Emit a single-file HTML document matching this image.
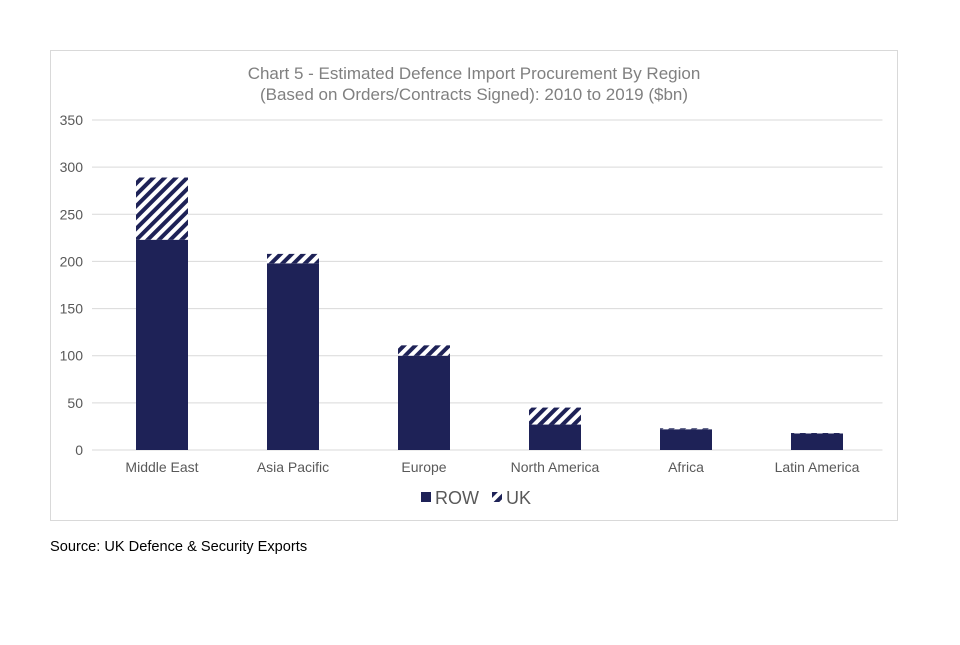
<!DOCTYPE html>
<html><head><meta charset="utf-8"><style>
body{margin:0;background:#fff;font-family:"Liberation Sans",Arial,sans-serif;}
</style></head><body>
<svg width="960" height="640" xmlns="http://www.w3.org/2000/svg" font-family="Liberation Sans, Arial, sans-serif">
<defs>
<pattern id="hatch" patternUnits="userSpaceOnUse" width="8" height="8" patternTransform="rotate(45)">
<rect width="8" height="8" fill="#fff"/><rect width="4" height="8" fill="#1e2257"/>
</pattern>
</defs>
<rect x="50.5" y="50.5" width="847" height="470" fill="#fff" stroke="#d9d9d9"/>
<text x="474" y="79" text-anchor="middle" font-size="17" fill="#808080">Chart 5 - Estimated Defence Import Procurement By Region</text>
<text x="474" y="100" text-anchor="middle" font-size="17" fill="#808080">(Based on Orders/Contracts Signed): 2010 to 2019 ($bn)</text>
<g id="grid"></g><g id="bars"></g><g id="xlabels"></g>
<g>
<rect x="421" y="492" width="10" height="10" fill="#1e2257"/>
<text x="435" y="504" font-size="18" fill="#595959">ROW</text>
<rect x="492" y="492" width="10" height="10" fill="url(#hatch)"/>
<text x="506" y="504" font-size="18" fill="#595959">UK</text>
</g>
<text x="50" y="551" font-size="14.6" fill="#000">Source: UK Defence &amp; Security Exports</text>
</svg>
<script>
const categories=["Middle East","Asia Pacific","Europe","North America","Africa","Latin America"];
const rowValues=[223,198,100,27,22,17.5];
const ukValues=[66,10,11,18,1,0.5];
const yTicks=[0,50,100,150,200,250,300,350];
const NS="http://www.w3.org/2000/svg";
const y0=450,yTop=120,yMax=350,xL=96.5,xR=882.5;
const y=v=>y0-(v/yMax)*(y0-yTop);
const bw=(xR-xL)/categories.length;
const xc=i=>xL+bw*(i+0.5);
function mk(t,a,p){const e=document.createElementNS(NS,t);for(const k in a)e.setAttribute(k,a[k]);p.appendChild(e);return e;}
const g=document.getElementById('grid');
yTicks.forEach(t=>{
 const l=mk('line',{x1:92,x2:xR,y1:y(t),y2:y(t),stroke:'#d9d9d9','stroke-width':1},g);
 
 
 const tx=mk('text',{x:83,y:y(t)+5,'text-anchor':'end','font-size':14,fill:'#595959'},g);
 tx.textContent=t;
 
 
});
const b=document.getElementById('bars'),xl=document.getElementById('xlabels');
categories.forEach((c,i)=>{
 const w=52,x=xc(i)-w/2;
 const r=mk('rect',{x:x,y:y(rowValues[i]),width:w,height:y0-y(rowValues[i]),fill:'#1e2257'},b);
 
 
 const top=rowValues[i]+ukValues[i];
 const u=mk('rect',{x:x,y:y(top),width:w,height:y(rowValues[i])-y(top),fill:'url(#hatch)'},b);
 
 
 const t=mk('text',{x:xc(i),y:472,'text-anchor':'middle','font-size':14,fill:'#595959'},xl);
 t.textContent=c;
 
 
});
</script>
</body></html>
